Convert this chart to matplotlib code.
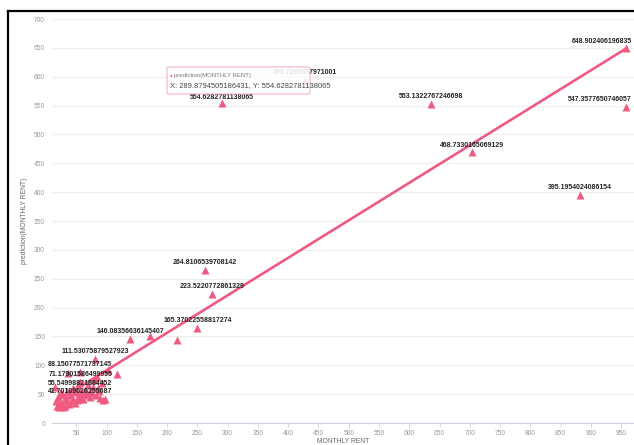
import matplotlib
matplotlib.use("Agg")
import matplotlib.pyplot as plt
from matplotlib.patches import FancyBboxPatch
from matplotlib.lines import Line2D

plt.rcParams['font.family'] = ['Liberation Sans Narrow', 'Liberation Sans', 'DejaVu Sans']

# labelled points (rent, prediction text)
lab_rent = [958, 428, 289.8794505186431, 636, 957, 704, 882,
            263, 275, 250, 139, 81, 56, 57, 56, 57]
lab_text = ["648.902406196835", "593.7289537971001", "554.6282781138065",
            "553.1322767246698", "547.3577650746057", "468.7330165069129",
            "395.1954024086154", "264.8106539708142", "223.5220772861329",
            "165.37022558817274", "146.08356636145407", "111.53075879527923",
            "88.15077571737145", "71.17901586499955", "55.54998821864452",
            "41.70189626255687"]
lab_pred = [float(s) for s in lab_text]

# unlabelled points
oth_rent = [172, 216, 103, 117, 15, 17, 19, 20, 22, 23, 25, 26, 28, 30, 31,
            33, 35, 37, 38, 40, 42, 44, 45, 48, 50, 52, 55, 58, 60, 62, 65,
            67, 70, 72, 75, 77, 80, 83, 85, 88, 90, 92, 95, 98,
            24, 34, 46, 54, 64, 74, 86]
oth_pred = [151, 143, 92, 85, 62, 38, 30, 45, 28, 35, 32, 50, 27, 40, 30,
            44, 36, 87, 33, 48, 38, 60, 42, 35, 55, 40, 70, 45, 50, 42, 58,
            48, 65, 45, 52, 62, 75, 48, 80, 55, 44, 70, 40, 42,
            52, 56, 54, 50, 52, 56, 60]

# fitted line end points
line_rent = [15, 958]
line_pred = [36, 648.9]

tip_title = "prediction(MONTHLY RENT)"
tip_text = "X: 289.8794505186431, Y: 554.6282781138065"

pink = '#ee5a80'
W, H = 634, 445

fig = plt.figure(figsize=(W / 100, H / 100), dpi=100)
ax = fig.add_axes([52 / W, 22 / H, 582 / W, 404 / H])

ax.plot(line_rent, line_pred, color=pink, lw=1.9, zorder=2, solid_capstyle='butt')
ax.plot(oth_rent, oth_pred, '^', ms=5.9, color=pink, mec='none', zorder=3)
ax.plot(lab_rent, lab_pred, '^', ms=5.9, color=pink, mec='none', zorder=3)

for x, y, s in zip(lab_rent, lab_pred, lab_text):
    ha, dx, dy, z = 'center', 0, 2.8, 4
    if x > 940:
        ha, dx = 'right', 4.5
    if s.startswith('554'):
        dy, z = 1.6, 12
    ax.annotate(s, (x, y), xytext=(dx, dy), textcoords='offset points',
                ha=ha, va='bottom', fontsize=5.0, fontweight='bold',
                color='#222222', zorder=z, annotation_clip=False)

ax.set_xlim(10, 971)
ax.set_ylim(0, 700)
ax.set_xticks(range(50, 951, 50))
ax.set_yticks(range(0, 701, 50))
ax.grid(axis='y', color='#eeeeee', lw=0.8)
ax.set_axisbelow(True)
for side in ['top', 'right', 'left']:
    ax.spines[side].set_visible(False)
ax.spines['bottom'].set_color('#c9d0e0')
ax.spines['bottom'].set_linewidth(0.8)
ax.tick_params(axis='x', colors='#c9d0e0', length=3, width=0.6, pad=2,
               labelsize=4.8, labelcolor='#999999')
ax.tick_params(axis='y', length=0, pad=5, labelsize=4.8, labelcolor='#999999')
ax.set_xlabel("MONTHLY RENT", fontsize=4.9, color='#666666', labelpad=1)
ax.set_ylabel("prediction(MONTHLY RENT)", fontsize=4.9, color='#666666', labelpad=4)

# tooltip
fx = lambda px: px / W
fy = lambda py: 1 - py / H
box = FancyBboxPatch((fx(167), fy(94)), fx(310) - fx(167), fy(67) - fy(94),
                     boxstyle='round,pad=0,rounding_size=0.003',
                     transform=fig.transFigure, facecolor='white', alpha=0.88,
                     edgecolor='#f2a9bb', lw=0.8, zorder=10)
fig.add_artist(box)
fig.text(fx(171), fy(75.5), u"\u25cf", color=pink, fontsize=3.5,
         ha='center', va='center', zorder=11)
fig.text(fx(174), fy(75.5), tip_title, color='#777777', fontsize=4.3,
         ha='left', va='center', zorder=11)
fig.text(fx(170), fy(86), tip_text, color='#444444', fontsize=5.4,
         ha='left', va='center', zorder=11)

# screenshot frame
fig.add_artist(Line2D([fx(8), 1], [fy(11), fy(11)], color='black', lw=1.6,
                      transform=fig.transFigure))
fig.add_artist(Line2D([fx(8), fx(8)], [fy(11), 0], color='black', lw=1.6,
                      transform=fig.transFigure))

fig.savefig('out.png', dpi=100)
